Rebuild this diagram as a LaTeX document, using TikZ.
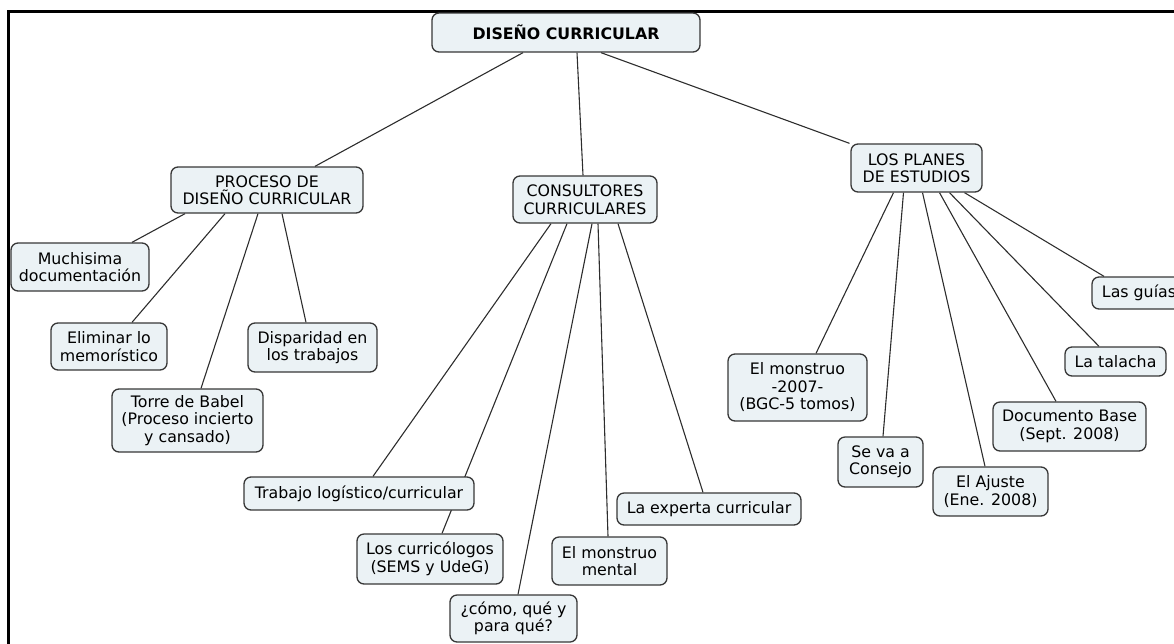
\documentclass[tikz,border=0pt]{standalone}
\usepackage{fontspec}
\setmainfont{DejaVu Sans}
\usetikzlibrary{backgrounds}
\definecolor{boxfill}{RGB}{235,242,245}
\definecolor{boxdraw}{RGB}{55,55,55}
\definecolor{linkcol}{RGB}{45,45,45}
\newcommand{\cmapfont}{\fontsize{15.8}{17.5}\selectfont}
\tikzset{
  box/.style={draw=boxdraw, fill=boxfill, rounded corners=7pt, line width=1.3pt,
    align=center, inner sep=0pt, font=\cmapfont},
  link/.style={draw=linkcol, line width=1.1pt},
  frame/.style={draw=black, line width=2.7pt}
}
\begin{document}
\begin{tikzpicture}[x=1pt,y=-1pt]
\useasboundingbox (0,0) rectangle (1174,643);
\clip (0,0) rectangle (1174,643);
% frame
\coordinate (fl) at (8.7,700);
\coordinate (fc) at (8.7,11.3);
\coordinate (fr) at (1200,11.3);
\draw[frame] (fl) -- (fc) -- (fr);

% nodes
\node[box, minimum width=268pt, minimum height=39pt] (top) at (566,32.5) {\textbf{DISEÑO CURRICULAR}};
\node[box, minimum width=192pt, minimum height=46pt] (proc) at (267,190) {PROCESO DE\\DISEÑO CURRICULAR};
\node[box, minimum width=144pt, minimum height=47pt] (cons) at (585,199.5) {CONSULTORES\\CURRICULARES};
\node[box, minimum width=131pt, minimum height=48pt] (plan) at (916.5,168) {LOS PLANES\\DE ESTUDIOS};

\node[box, minimum width=138pt, minimum height=48pt] (much) at (80,267) {Muchisima\\documentación};
\node[box, minimum width=116pt, minimum height=47pt] (elim) at (109,346.5) {Eliminar lo\\memorístico};
\node[box, minimum width=129pt, minimum height=49pt] (disp) at (312.5,347.5) {Disparidad en\\los trabajos};
\node[box, minimum width=151pt, minimum height=63pt] (torre) at (187.5,420.5) {Torre de Babel\\(Proceso incierto\\y cansado)};

\node[box, minimum width=230pt, minimum height=33pt] (trab) at (359,493.5) {Trabajo logístico/curricular};
\node[box, minimum width=146pt, minimum height=50pt] (curr) at (430,559) {Los curricólogos\\(SEMS y UdeG)};
\node[box, minimum width=127pt, minimum height=47pt] (como) at (513.5,618.5) {¿cómo, qué y\\para qué?};
\node[box, minimum width=115pt, minimum height=48pt] (mental) at (609.5,561) {El monstruo\\mental};
\node[box, minimum width=184pt, minimum height=32pt] (exp) at (709,509) {La experta curricular};

\node[box, minimum width=139pt, minimum height=67pt] (m2007) at (797.5,387.5) {El monstruo\\-2007-\\(BGC-5 tomos)};
\node[box, minimum width=85pt, minimum height=50pt] (seva) at (880.5,462) {Se va a\\Consejo};
\node[box, minimum width=115pt, minimum height=49pt] (ajuste) at (990.5,491.5) {El Ajuste\\(Ene. 2008)};
\node[box, minimum width=153pt, minimum height=49pt] (doc) at (1069.5,426.5) {Documento Base\\(Sept. 2008)};
\node[box, minimum width=101pt, minimum height=29pt] (tal) at (1115.5,361.5) {La talacha};
\node[box, minimum width=94pt, minimum height=32pt] (guias) at (1139,293) {Las guías};

% connectors
\begin{scope}[on background layer]
\draw[link] ([xshift=-43pt]top.south) -- ([xshift=48pt]proc.north);
\draw[link] ([xshift=11pt]top.south) -- ([xshift=-2pt]cons.north);
\draw[link] ([xshift=35pt]top.south) -- ([xshift=-67pt]plan.north);

\draw[link] ([xshift=-82pt]proc.south) -- ([xshift=52pt]much.north);
\draw[link] ([xshift=-42pt]proc.south) -- ([xshift=23pt]elim.north);
\draw[link] ([xshift=-9pt]proc.south) -- ([xshift=13.5pt]torre.north);
\draw[link] ([xshift=15pt]proc.south) -- ([xshift=-6.5pt]disp.north);

\draw[link] ([xshift=-34pt]cons.south) -- ([xshift=14pt]trab.north);
\draw[link] ([xshift=-18pt]cons.south) -- ([xshift=12pt]curr.north);
\draw[link] ([xshift=7pt]cons.south) -- ([xshift=4.5pt]como.north);
\draw[link] ([xshift=13pt]cons.south) -- ([xshift=-1.5pt]mental.north);
\draw[link] ([xshift=33pt]cons.south) -- ([xshift=-6pt]exp.north);

\draw[link] ([xshift=-23pt]plan.south) -- ([xshift=18.5pt]m2007.north);
\draw[link] ([xshift=-13pt]plan.south) -- ([xshift=2.5pt]seva.north);
\draw[link] ([xshift=6pt]plan.south) -- ([xshift=-5.5pt]ajuste.north);
\draw[link] ([xshift=23pt]plan.south) -- ([xshift=-13.5pt]doc.north);
\draw[link] ([xshift=33pt]plan.south) -- ([xshift=-16.5pt]tal.north);
\draw[link] ([xshift=48pt]plan.south) -- ([xshift=-35pt]guias.north);
\end{scope}
\end{tikzpicture}
\end{document}
